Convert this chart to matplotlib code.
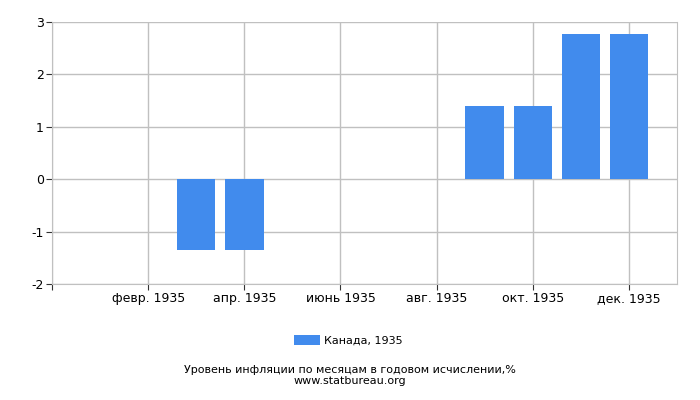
import numpy as np
import matplotlib.pyplot as plt

plt.rcParams['axes.unicode_minus'] = False

months = np.arange(1, 13)
values = [0, 0, -1.35, -1.35, 0, 0, 0, 0, 1.4, 1.4, 2.78, 2.78]
tick_pos = [0, 2, 4, 6, 8, 10, 12]
tick_labels = ['', 'февр. 1935', 'апр. 1935', 'июнь 1935', 'авг. 1935', 'окт. 1935', 'дек. 1935']
series_name = 'Канада, 1935'

fig = plt.figure(figsize=(7, 4), dpi=100)
ax = fig.add_axes([52 / 700, 1 - 284 / 400, 625 / 700, 262 / 400])

ax.bar(months, values, width=0.8, color='#418bed', label=series_name, zorder=3)

ax.set_xlim(0, 13)
ax.set_ylim(-2, 3)
ax.set_yticks([-2, -1, 0, 1, 2, 3])
ax.set_xticks(tick_pos)
ax.set_xticklabels(tick_labels, fontsize=9)
ax.tick_params(axis='y', labelsize=9, length=4, color='#333333', pad=2)
ax.tick_params(axis='x', length=4, color='#333333', pad=2)
ax.grid(True, color='#c0c0c0', linewidth=1, zorder=0)
for s in ['top', 'right', 'left', 'bottom']:
    ax.spines[s].set_color('#c0c0c0')
ax.spines['top'].set_visible(False)

fig.legend(loc='center', bbox_to_anchor=(348 / 700, 1 - 340 / 400), frameon=False,
           fontsize=8, handlelength=2.4, handleheight=1.0, handletextpad=0.3)
fig.text(0.5, 1 - 370 / 400, 'Уровень инфляции по месяцам в годовом исчислении,%',
         ha='center', va='center', fontsize=8)
fig.text(0.5, 1 - 381 / 400, 'www.statbureau.org', ha='center', va='center', fontsize=8)

plt.savefig('out.png', dpi=100)
